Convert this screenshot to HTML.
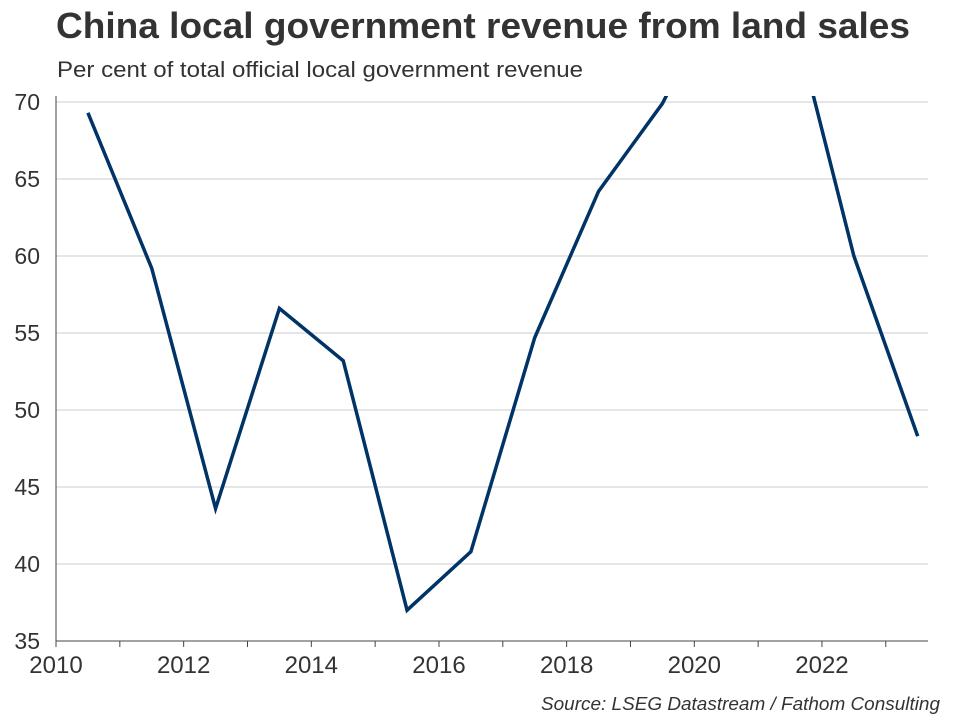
<!DOCTYPE html>
<html><head><meta charset="utf-8"><style>
body{margin:0;background:#fff;font-family:"Liberation Sans",Arial,sans-serif;}
svg text{font-family:"Liberation Sans",Arial,sans-serif;}
</style></head><body>
<svg width="960" height="720" xmlns="http://www.w3.org/2000/svg">
<text x="56" y="38" font-size="36" font-weight="bold" fill="#333" textLength="854" lengthAdjust="spacingAndGlyphs">China local government revenue from land sales</text>
<text x="57" y="77" font-size="22" fill="#333" textLength="526" lengthAdjust="spacingAndGlyphs">Per cent of total official local government revenue</text>
<defs><clipPath id="clip"><rect x="56" y="96" width="880" height="546"/></clipPath></defs>
<g id="grid"></g>
<g id="yticks"></g>
<g id="xticks"></g>
<path id="line" clip-path="url(#clip)" fill="none" stroke="#003366" stroke-width="3.5" stroke-linejoin="miter"/>
<text x="940" y="710" font-size="18" font-style="italic" fill="#333" text-anchor="end" textLength="399" lengthAdjust="spacingAndGlyphs">Source: LSEG Datastream / Fathom Consulting</text>
</svg>
<script>
const years=[2010.5,2011.5,2012.5,2013.5,2014.5,2015.5,2016.5,2017.5,2018.5,2019.5,2020.5,2021.5,2022.5,2023.5];
const values=[69.3,59.2,43.6,56.6,53.2,37.0,40.8,54.7,64.2,69.9,78,76.4,60.0,48.3];
const yTicks=[35,40,45,50,55,60,65,70];
const xTicks=[2010,2012,2014,2016,2018,2020,2022];
const X=v=>56+(v-2010)*63.83;
const Y=v=>641-(v-35)*15.4;
const ns="http://www.w3.org/2000/svg";
const g=document.getElementById('grid'),yt=document.getElementById('yticks'),xt=document.getElementById('xticks');
yTicks.forEach(t=>{
 const l=document.createElementNS(ns,'line');
 
 
 l.setAttribute('x1',56);l.setAttribute('x2',928);l.setAttribute('y1',Y(t));l.setAttribute('y2',Y(t));
 l.setAttribute('stroke',t===35?'#444':'#ccc');l.setAttribute('stroke-width',1);
 g.appendChild(l);
 const tx=document.createElementNS(ns,'text');
 
 
 tx.setAttribute('x',40);tx.setAttribute('y',Y(t)+8);tx.setAttribute('text-anchor','end');
 tx.setAttribute('font-size','23');tx.setAttribute('fill','#333');tx.textContent=t;
 yt.appendChild(tx);
});
const ax=document.createElementNS(ns,'line');


ax.setAttribute('x1',56);ax.setAttribute('x2',56);ax.setAttribute('y1',96);ax.setAttribute('y2',641);ax.setAttribute('stroke','#444');
yt.appendChild(ax);
for(let y=2010;y<=2023;y++){
 const l=document.createElementNS(ns,'line');
 
 
 l.setAttribute('x1',X(y));l.setAttribute('x2',X(y));l.setAttribute('y1',641);l.setAttribute('y2',647);l.setAttribute('stroke','#444');
 xt.appendChild(l);
}
xTicks.forEach(t=>{
 const tx=document.createElementNS(ns,'text');
 
 
 tx.setAttribute('x',X(t));tx.setAttribute('y',673);tx.setAttribute('text-anchor','middle');
 tx.setAttribute('font-size','24');tx.setAttribute('fill','#333');tx.textContent=t;
 xt.appendChild(tx);
});
document.getElementById('line').setAttribute('d',years.map((y,i)=>(i?'L':'M')+X(y)+','+Y(values[i])).join(''));
</script>
</body></html>
